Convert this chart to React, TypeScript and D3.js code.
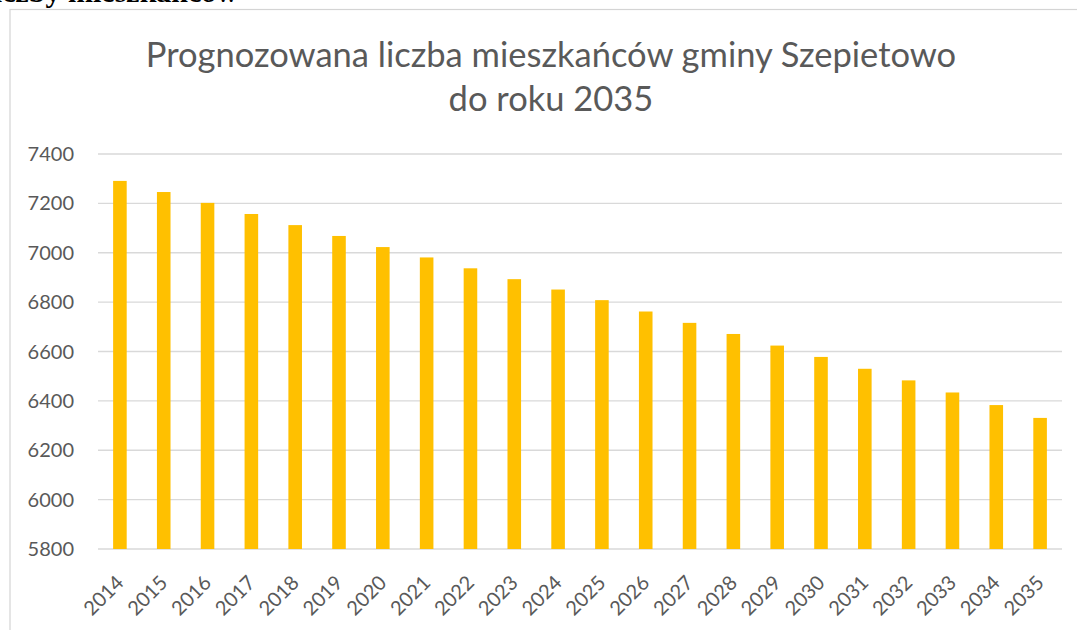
import React from "react";
import * as d3 from "d3";

const years = [
  "2014", "2015", "2016", "2017", "2018", "2019", "2020", "2021", "2022", "2023", "2024",
  "2025", "2026", "2027", "2028", "2029", "2030", "2031", "2032", "2033", "2034", "2035",
];
const population = [
  7291, 7246, 7202, 7157, 7112, 7068, 7023, 6981, 6937, 6893, 6851,
  6808, 6762, 6716, 6671, 6624, 6578, 6530, 6483, 6434, 6383, 6331,
];
const yTicks = [5800, 6000, 6200, 6400, 6600, 6800, 7000, 7200, 7400];
const titleLines = ["Prognozowana liczba mieszkańców gminy Szepietowo", "do roku 2035"];

const W = 1077;
const H = 630;
const margin = { top: 154, right: 15, bottom: 81, left: 98 };
const font = "Lato, 'Open Sans', sans-serif";
const textColor = "#595959";
const gridColor = "#d9d9d9";

const App: React.FC = () => {
  const x = d3
    .scaleBand<string>()
    .domain(years)
    .range([margin.left, W - margin.right])
    .paddingInner(0.69)
    .paddingOuter(0.345);

  const y = d3
    .scaleLinear()
    .domain([5800, 7400])
    .range([H - margin.bottom, margin.top]);

  return (
    <svg
      width={W}
      height={H}
      style={{ position: "absolute", left: 0, top: 0, background: "#fff" }}
    >
      {/* page text above the chart, cut by the top edge */}
      <text
        x={238}
        y={2}
        textAnchor="end"
        fontFamily="'Liberation Serif', 'Times New Roman', serif"
        fontWeight="bold"
        fontSize={30}
        fill="#000"
      >
        liczby mieszkańców
      </text>
      <rect x={10} y={9.5} width={W} height={H} fill="none" stroke="#d4d4d4" strokeWidth={1.2} />

      {titleLines.map((t, i) => (
        <text
          key={t}
          x={551}
          y={67 + i * 44}
          textAnchor="middle"
          fontFamily={font}
          fontSize={34.5}
          fill={textColor}
        >
          {t}
        </text>
      ))}

      {yTicks.map((t) => (
        <g key={t}>
          <line
            x1={margin.left}
            x2={W - margin.right}
            y1={y(t)}
            y2={y(t)}
            stroke={gridColor}
            strokeWidth={1.4}
          />
          <text
            x={74}
            y={y(t)}
            dy="0.35em"
            textAnchor="end"
            fontFamily={font}
            fontSize={20}
            fill={textColor}
          >
            {t}
          </text>
        </g>
      ))}

      {years.map((yr, i) => (
        <rect
          key={yr}
          x={x(yr)}
          y={y(population[i])}
          width={x.bandwidth()}
          height={y(5800) - y(population[i])}
          fill="#ffc000"
        />
      ))}

      {years.map((yr) => {
        const cx = (x(yr) as number) + x.bandwidth() / 2;
        return (
          <text
            key={yr}
            transform={`translate(${cx + 5},${y(5800) + 35}) rotate(-45)`}
            textAnchor="end"
            fontFamily={font}
            fontSize={20}
            fill={textColor}
          >
            {yr}
          </text>
        );
      })}
    </svg>
  );
};

export default App;
